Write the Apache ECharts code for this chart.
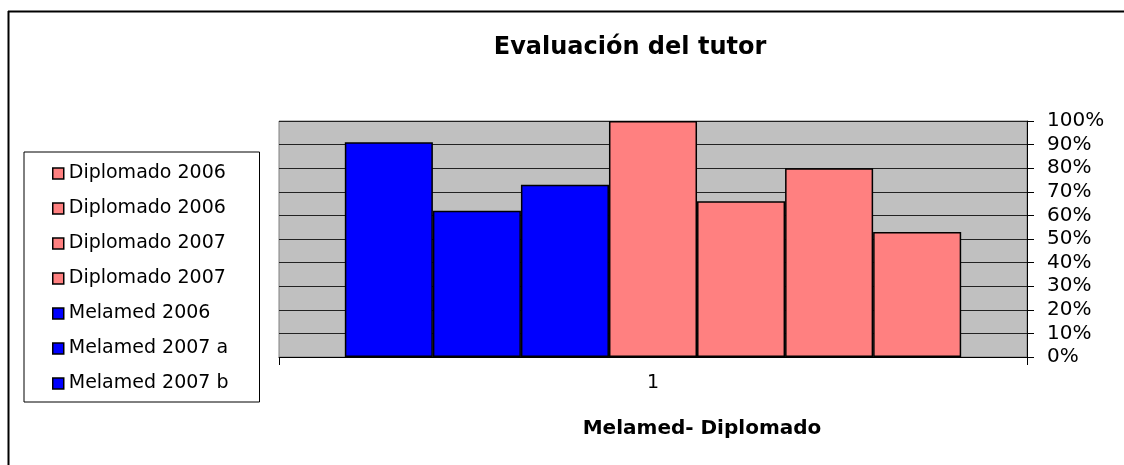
<!DOCTYPE html>
<html>
<head>
<meta charset="utf-8">
<script src="https://cdn.jsdelivr.net/npm/echarts@6/dist/echarts.min.js"></script>
<style>
  html, body { margin: 0; padding: 0; background: #fff; }
  #chart { width: 1124px; height: 465px; }
</style>
</head>
<body>
<div id="chart"></div>
<script>
// legend order (as listed in the box); bars are drawn right-to-left in this order
const seriesNames = ['Diplomado 2006', 'Diplomado 2006', 'Diplomado 2007', 'Diplomado 2007',
                     'Melamed 2006', 'Melamed 2007 a', 'Melamed 2007 b'];
const seriesValues = [0.53, 0.80, 0.66, 1.00, 0.73, 0.62, 0.91];
const categories = ['1'];
const yTicks = [0, 0.1, 0.2, 0.3, 0.4, 0.5, 0.6, 0.7, 0.8, 0.9, 1];

const FONT = 'DejaVu Sans';

// names must be unique for the legend, strip the suffix when shown
const keys = seriesNames.map((n, i) => n + '#' + i);

const series = keys.slice().reverse().map(function (k) {
  const i = keys.indexOf(k);
  const blue = seriesNames[i].indexOf('Melamed') === 0;
  return {
    name: k,
    type: 'bar',
    data: [seriesValues[i]],
    barGap: '0%',
    barCategoryGap: '17.6%',
    itemStyle: {
      color: blue ? '#0000ff' : '#ff8080',
      borderColor: '#000',
      borderWidth: 1.5
    },
    emphasis: { disabled: true }
  };
});

const chart = echarts.init(document.getElementById('chart'));
chart.setOption({
  animation: false,
  backgroundColor: '#fff',
  title: [
    {
      text: 'Evaluación del tutor',
      left: 625, top: 31, textAlign: 'center',
      textStyle: { fontFamily: FONT, fontSize: 24, fontWeight: 'bold', color: '#000' }
    },
    {
      text: 'Melamed- Diplomado',
      left: 697, top: 414, textAlign: 'center',
      textStyle: { fontFamily: FONT, fontSize: 20, fontWeight: 'bold', color: '#000' }
    }
  ],
  legend: {
    orient: 'vertical',
    left: 24, top: 152,
    data: keys,
    formatter: function (n) { return n.split('#')[0]; },
    icon: 'rect',
    itemWidth: 11, itemHeight: 11,
    itemGap: 16,
    padding: [12, 31, 9, 28],
    borderColor: '#000', borderWidth: 1,
    selectedMode: false,
    itemStyle: { borderColor: '#000', borderWidth: 1.5 },
    textStyle: { fontFamily: FONT, fontSize: 19, lineHeight: 19, color: '#000' }
  },
  grid: {
    left: 279, top: 121, right: 97, bottom: 108,
    show: true,
    backgroundColor: '#c0c0c0',
    borderColor: '#808080', borderWidth: 1
  },
  xAxis: {
    type: 'category',
    data: categories,
    axisLine: { lineStyle: { color: '#000', width: 1 } },
    axisTick: { show: true, length: 8, lineStyle: { color: '#000' } },
    axisLabel: { fontFamily: FONT, fontSize: 19, color: '#000', margin: 17 },
    splitLine: { show: false }
  },
  yAxis: {
    type: 'value',
    position: 'right',
    min: yTicks[0], max: yTicks[yTicks.length - 1], interval: 0.1,
    axisLine: { show: true, lineStyle: { color: '#000', width: 1 } },
    axisTick: { show: true, length: 7, lineStyle: { color: '#000' } },
    axisLabel: {
      fontFamily: FONT, fontSize: 20, color: '#000', margin: 20,
      formatter: function (v) { return Math.round(v * 100) + '%'; }
    },
    splitLine: { show: true, lineStyle: { color: '#222', width: 1.2 } }
  },
  graphic: [
    { type: 'line', shape: { x1: 8, y1: 11.5, x2: 1124, y2: 11.5 }, style: { stroke: '#000', lineWidth: 2 } },
    { type: 'line', shape: { x1: 8.5, y1: 11, x2: 8.5, y2: 465 }, style: { stroke: '#000', lineWidth: 2 } }
  ],
  series: series
});
</script>
</body>
</html>
